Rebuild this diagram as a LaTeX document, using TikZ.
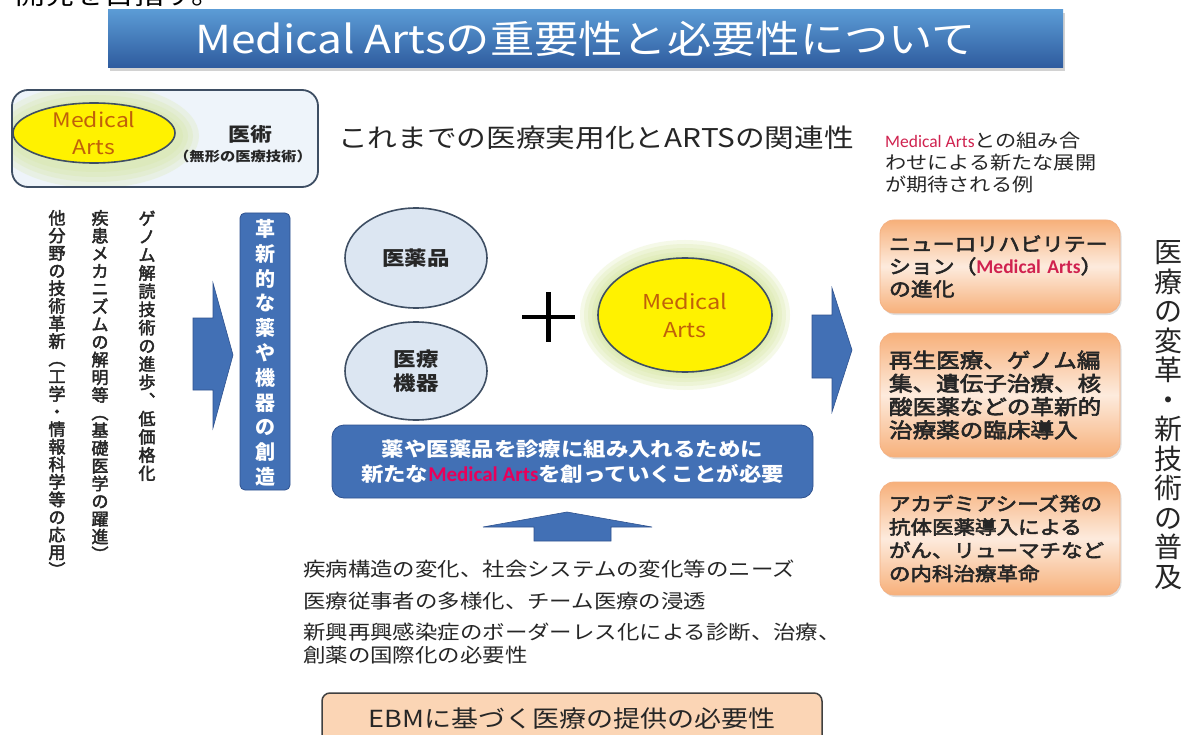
\documentclass[tikz,border=0pt]{standalone}
\usepackage{fontspec}
\setmainfont{Noto Sans CJK JP}
\newfontfamily\jpwide{Noto Sans CJK JP}[FakeStretch=1.15]
\newfontfamily\jpwidesemi{Noto Sans CJK JP}[FakeStretch=1.15, FakeBold=3]
\newfontfamily\jpsemi{Noto Sans CJK JP}[FakeBold=2.5]
\newfontfamily\calfont{Carlito}
\usetikzlibrary{shapes.geometric,shadows}

\definecolor{txt}{HTML}{262626}
\definecolor{barTop}{HTML}{5B9BD5}
\definecolor{barBot}{HTML}{2E5B9E}
\definecolor{boxblue}{HTML}{4270B5}
\definecolor{boxedge}{HTML}{2F528F}
\definecolor{ellfill}{HTML}{DCE6F2}
\definecolor{elledge}{HTML}{3E4E63}
\definecolor{mared}{HTML}{D0224F}
\definecolor{mapink}{HTML}{E8005A}
\definecolor{maorange}{HTML}{C0600A}
\definecolor{glow}{HTML}{D4E59A}
\definecolor{peach}{HTML}{FBD5B5}
\definecolor{orEdge}{HTML}{F4B183}
\definecolor{orDark}{HTML}{F7B07A}
\definecolor{orLight}{HTML}{FDEBDD}
\definecolor{tlfill}{HTML}{EEF4FA}

\makeatletter
\newdimen\vt@h
\newcommand\vtext[2]{\vt@h=#1\relax\vbox{\offinterlineskip\@tfor\vt@c:=#2\do{\hbox to \vt@h{\vrule height .86\vt@h depth .14\vt@h width 0pt\hss\vt@c\hss}}}}
\makeatother

\tikzset{
  blockarrow/.style={fill=boxblue, draw=boxedge, line width=0.6pt},
  bluebox/.style={draw=boxedge, fill=boxblue, line width=0.8pt},
  grayell/.style={ellipse, draw=elledge, line width=1.6pt, fill=ellfill},
  yellowell/.style={ellipse, draw=elledge, line width=1.6pt, fill=yellow},
  orbox/.style={draw=orEdge, line width=0.8pt, rounded corners=14pt, top color=orDark, bottom color=orDark, middle color=orLight, minimum width=240pt, text width=222pt, align=left, drop shadow={shadow xshift=1.5pt, shadow yshift=-2pt, opacity=.25}},
}

\begin{document}
\begin{tikzpicture}[x=1pt,y=-1pt, every node/.style={inner sep=0pt, text=txt}]
\useasboundingbox (0,0) rectangle (1185,735);
\fill[white] (0,0) rectangle (1185,735);

% cut text at very top
\node[anchor=base west, font=\jpwide\fontsize{26}{26}\selectfont, text=black] (cut) at (15,4.5) {開発を目指す。};

% title bar
\node[top color=barTop, bottom color=barBot, minimum width=955pt, minimum height=58pt,
      drop shadow={shadow xshift=2pt, shadow yshift=-3pt, opacity=.35},
      font=\jpwide\fontsize{38.5}{38.5}\selectfont, text=white] (title) at (585.5,39) {Medical Artsの重要性と必要性について};

% top-left box
\node[draw=elledge, line width=1.8pt, rounded corners=16pt, fill=tlfill, minimum width=306pt, minimum height=97pt] (tlbox) at (165,138.5) {};
\begin{scope}
  \clip[rounded corners=16pt] (13,91) rectangle (317,186);
  \foreach \r in {22,16,11,6}{\fill[glow, opacity=.22] (96,136) ellipse ({81+\r} and {30+\r});}
\end{scope}
\node[yellowell, minimum width=162pt, minimum height=60pt] (ma1) at (94,133) {};
\node[align=center, font=\jpwide\fontsize{20}{27}\selectfont, text=maorange] (ma1t) at (ma1) {Medical\\Arts};
\node[font=\jpwide\fontsize{19}{19}\selectfont\bfseries] (ijutsu) at (250,134) {医術};
\node[font=\jpwide\fontsize{13.3}{13.3}\selectfont\bfseries] (mukei) at (243,156) {（無形の医療技術）};

% subtitle
\node[anchor=west, font=\jpwide\fontsize{25.8}{25.8}\selectfont] (sub) at (338,138) {これまでの医療実用化とARTSの関連性};

% left vertical texts
\node[anchor=north, font=\jpsemi\fontsize{17}{17}\selectfont] (c1) at (147,209) {\vtext{18.2pt}{ゲノム解読技術の進歩︑低価格化}};
\node[anchor=north, font=\jpsemi\fontsize{17}{17}\selectfont] (c2) at (100,209) {\vtext{17.7pt}{疾患メカニズムの解明等︵基礎医学の躍進︶}};
\node[anchor=north, font=\jpsemi\fontsize{17}{17}\selectfont] (c3) at (57,209) {\vtext{17.6pt}{他分野の技術革新︵工学・情報科学等の応用︶}};

% left arrow
\path[blockarrow] (193,318) -- (213,318) -- (213,283) -- (233,355) -- (213,428) -- (213,390) -- (193,390) -- cycle;

% vertical blue box
\node[bluebox, rounded corners=5pt, minimum width=50pt, minimum height=277pt] (vbox) at (265,351.5) {};
\node[font=\fontsize{20}{20}\selectfont\bfseries, text=white] (vtxt) at (vbox) {\vtext{24.8pt}{革新的な薬や機器の創造}};

% gray ellipses
\node[grayell, minimum width=142pt, minimum height=100pt] (e1) at (416,258) {};
\node[font=\jpwide\fontsize{19.5}{19.5}\selectfont\bfseries] (e1t) at (e1) {医薬品};
\node[grayell, minimum width=142pt, minimum height=98pt] (e2) at (416,371) {};
\node[align=center, font=\jpwide\fontsize{19.5}{23.5}\selectfont\bfseries] (e2t) at (e2) {医療\\機器};

% plus
\draw[line width=4.5pt, black] (522,317) -- (575,317) (548.5,292) -- (548.5,342);

% yellow ellipse with glow
\foreach \r in {18,14,10,6,3}{\fill[glow, opacity=.22] (685,315) ellipse ({87+\r} and {57+\r});}
\node[yellowell, minimum width=174pt, minimum height=114pt] (ma2) at (685,315) {};
\node[align=center, font=\jpwide\fontsize{20.5}{28}\selectfont, text=maorange] (ma2t) at (ma2) {Medical\\Arts};

% blue wide box
\node[bluebox, rounded corners=12pt, minimum width=481pt, minimum height=73pt, align=center, text=white,
      font=\jpwide\fontsize{19.5}{25}\selectfont\bfseries] (bb) at (572.5,461.5)
      {薬や医薬品を診療に組み入れるために\\新たな{\calfont\bfseries\fontsize{21}{25}\selectfont\color{mapink}Medical Arts}を創っていくことが必要};

% up arrow
\path[blockarrow] (534,541) -- (534,527) -- (483,527) -- (567,512) -- (652,527) -- (611,527) -- (611,541) -- cycle;

% needs texts
\node[anchor=west, font=\jpwide\fontsize{19.5}{19.5}\selectfont] (n1) at (303,569) {疾病構造の変化、社会システムの変化等のニーズ};
\node[anchor=west, font=\jpwide\fontsize{19.5}{19.5}\selectfont] (n2) at (303,601) {医療従事者の多様化、チーム医療の浸透};
\node[anchor=west, align=left, font=\jpwide\fontsize{19.5}{23}\selectfont] (n3) at (303,643.5) {新興再興感染症のボーダーレス化による診断、治療、\\創薬の国際化の必要性};

% EBM box
\node[draw=black!75, line width=1.5pt, fill=peach, rounded corners=8pt, minimum width=500pt, minimum height=52pt,
      font=\jpwide\fontsize{23.5}{23.5}\selectfont] (ebm) at (572,719) {EBMに基づく医療の提供の必要性};

% right arrow
\path[blockarrow] (812,315) -- (832,315) -- (832,288) -- (852,350) -- (832,412) -- (832,378) -- (812,378) -- cycle;

% right heading
\node[anchor=north west, align=left, font=\jpwide\fontsize{18.4}{22}\selectfont] (rh) at (885,132)
  {{\calfont\fontsize{17.5}{22}\selectfont\color{mared}Medical Arts}との組み合\\わせによる新たな展開\\が期待される例};

% orange boxes
\node[orbox, minimum height=93pt, font=\jpwidesemi\fontsize{19}{22.5}\selectfont] (o1) at (1000,266.5)
  {ニューロリハビリテー\\ション（{\calfont\bfseries\fontsize{19.5}{22.5}\selectfont\color{mared}Medical Arts}）\\の進化};
\node[orbox, minimum height=124pt, font=\jpwidesemi\fontsize{20.5}{23.3}\selectfont] (o2) at (1000,395)
  {再生医療、ゲノム編\\集、遺伝子治療、核\\酸医薬などの革新的\\治療薬の臨床導入};
\node[orbox, minimum height=113pt, font=\jpwidesemi\fontsize{18.7}{23.3}\selectfont] (o3) at (1000,538.5)
  {アカデミアシーズ発の\\抗体医薬導入による\\がん、リューマチなど\\の内科治療革命};

% right vertical text
\node[anchor=north, font=\fontsize{28}{28}\selectfont] (rv) at (1168,237) {\vtext{29.5pt}{医療の変革・新技術の普及}};
\end{tikzpicture}
\end{document}
